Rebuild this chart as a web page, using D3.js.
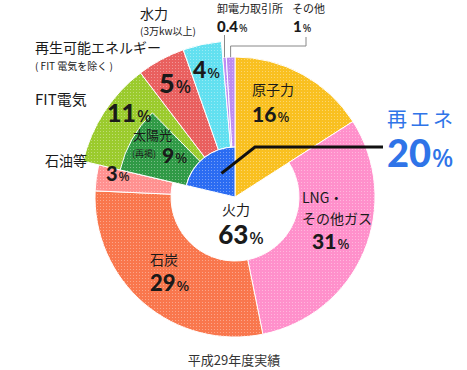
<!DOCTYPE html>
<html>
<head>
<meta charset="utf-8">
<script src="https://cdnjs.cloudflare.com/ajax/libs/d3/7.8.5/d3.min.js"></script>
<style>
body{margin:0;background:#fff}
svg{display:block}
text{font-family:"Noto Sans CJK JP",sans-serif;fill:#1a1a1a}
.num{font-family:Lato,"Noto Sans",sans-serif;font-weight:900}
.pct{font-family:"Noto Sans",sans-serif;font-weight:500}
</style>
</head>
<body>
<svg id="chart" width="467" height="370"></svg>
<script>
// 電源構成 平成29年度実績
var sources = ["原子力", "LNG・その他ガス", "石炭", "石油等", "FIT電気", "再生可能エネルギー", "水力", "卸電力取引所", "その他"];
var shares  = [16, 31, 29, 3, 11, 5, 4, 0.4, 1];
var groups  = ["原子力", "火力", "火力", "火力", "再エネ", "再エネ", "再エネ", "卸", "その他"];
var solarShare = 9;   // 太陽光（再掲）、FIT電気の内数
var colors  = ["#f9c020", "#ff90cb", "#f9774d", "#ff9190", "#9bcb2d", "#e9605f", "#62e0f0", "#be8cf2", "#be8cf2"];

const svg = d3.select("#chart");
const width = 467, height = 370;
const cx = 235, cy = 197;

// radii per group
const ring = {
    "原子力": [0, 140],
    "火力": [64, 140],
    "再エネ": [50, 156],
    "卸": [50, 140],
    "その他": [50, 140]
};

var defs = svg.append("defs");
var pat = defs.append("pattern")
    .attr("id", "dots")
    .attr("width", 3).attr("height", 3)
    .attr("patternUnits", "userSpaceOnUse");
pat.append("rect").attr("width", 1).attr("height", 1).attr("fill", "#fff").attr("opacity", 0.35);

var data = sources.map((s, i) => ({name: s, value: shares[i], group: groups[i], color: colors[i]}));
var total = d3.sum(shares);

var pie = d3.pie().sort(null).value(d => d.value);
var arcs = pie(data);

var g = svg.append("g").attr("transform", "translate(" + cx + "," + cy + ")");

function drawArc(d, r0, r1, color) {
    var path = d3.arc().innerRadius(r0).outerRadius(r1)(d);
    g.append("path").attr("d", path).attr("fill", color)
        .attr("stroke", "#fff").attr("stroke-width", 1);
    g.append("path").attr("d", path).attr("fill", "url(#dots)");
}

arcs.forEach(d => {
    var r = ring[d.data.group];
    drawArc(d, r[0], r[1], d.data.color);
});

// 太陽光 inside FIT電気
var fit = arcs[4];
var solar = {startAngle: fit.startAngle, endAngle: fit.startAngle + solarShare / total * 2 * Math.PI};
drawArc(solar, 50, 118, "#309a46");

// 再エネ wedge
var re = {startAngle: fit.startAngle, endAngle: 2 * Math.PI};
drawArc(re, 0, 50, "#2b6cf2");

// leader from 再エネ wedge
var c = d3.arc().innerRadius(0).outerRadius(50).centroid(re);
g.append("polyline")
    .attr("points", [[c[0] + 2, c[1] - 4], [20, -50], [148, -50]].map(p => p.join(",")).join(" "))
    .attr("fill", "none").attr("stroke", "#111").attr("stroke-width", 3);

// thin leaders for the small slices
var small = [arcs[7], arcs[8]];
var lead = svg.append("g").attr("fill", "none").attr("stroke", "#888").attr("stroke-width", 1);
function polar(a, r) { return [cx + r * Math.sin(a), cy - r * Math.cos(a)]; }
var p0 = polar((small[0].startAngle + small[0].endAngle) / 2, 140);
lead.append("polyline").attr("points", [[p0[0], p0[1]], [p0[0], 35]].join(" "));
var p1 = polar((small[1].startAngle + small[1].endAngle) / 2, 140);
lead.append("polyline").attr("points", [[p1[0], p1[1]], [p1[0], 46], [306, 46], [306, 37]].join(" "));

// labels
function label(x, y, t, size, anchor, extra) {
    var el = svg.append("text").attr("x", x).attr("y", y)
        .attr("font-size", size).attr("text-anchor", anchor || "start").text(t);
    if (extra) extra(el);
    return el;
}
function numLabel(x, y, v, size, anchor, color) {
    var el = svg.append("text").attr("x", x).attr("y", y).attr("text-anchor", anchor || "start");
    el.append("tspan").attr("class", "num").attr("font-size", size).text(v);
    el.append("tspan").attr("class", "pct").attr("font-size", Math.round(size * 0.66)).attr("dx", 1).text("%");
    if (color) el.selectAll("tspan").style("fill", color);
    return el;
}

var fire = d3.sum(data.filter(d => d.group == "火力"), d => d.value);
var renew = d3.sum(data.filter(d => d.group == "再エネ"), d => d.value);

label(252, 95, "原子力", 14);
numLabel(252, 122, shares[0], 21);
label(302, 203, "LNG・", 14);
label(302, 224, "その他ガス", 14);
numLabel(312, 249, shares[1], 21);
label(236, 215, "火力", 14, "middle");
numLabel(241, 244, fire, 26, "middle");
label(150, 265, "石炭", 14);
numLabel(150, 291, shares[2], 22);
label(45, 166, "石油等", 14);
numLabel(106, 181, shares[3], 20);
label(133, 140, "太陽光", 13);
label(132, 157, "(再掲)", 9);
numLabel(162, 163, solarShare, 21);
label(35, 105, "FIT電気", 15);
numLabel(107, 122, shares[4], 25);
label(35, 53, "再生可能エネルギー", 14);
label(35, 70, "( FIT 電気を除く )", 10);
numLabel(159, 93, shares[5], 27);
label(140, 19, "水力", 14);
label(140, 35, "(3万kw以上)", 10);
numLabel(193, 78, shares[6], 23);
label(217, 13, "卸電力取引所", 11);
numLabel(217, 32, shares[7], 15);
label(292, 13, "その他", 11);
numLabel(293, 32, shares[8], 15);

label(387, 127, "再エネ", 20, "start", el => el.style("fill", "#2f74e8").attr("letter-spacing", 3));
numLabel(387, 167, renew, 38, "start", "#2f74e8");

label(234, 365, "平成29年度実績", 13, "middle", el => el.style("fill", "#333"));
</script>
</body>
</html>
